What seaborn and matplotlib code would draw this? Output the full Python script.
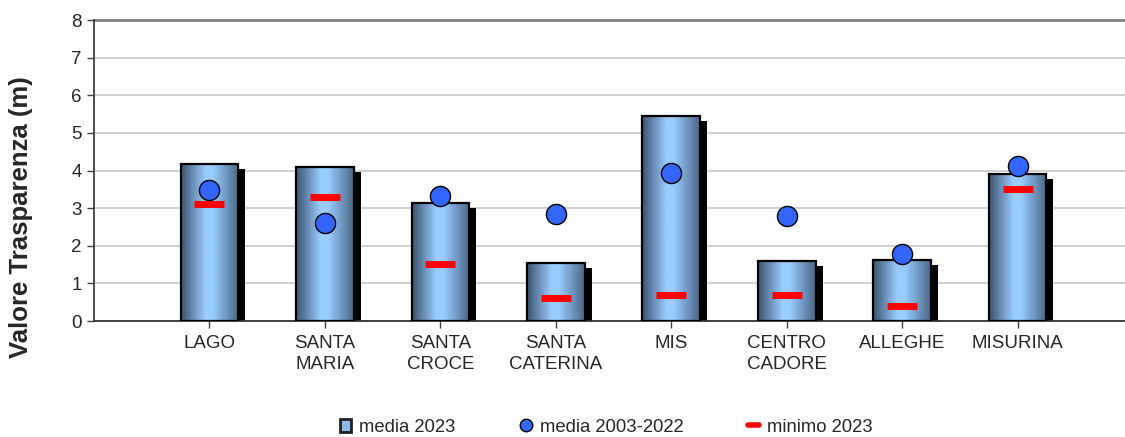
import numpy as np
import pandas as pd
import matplotlib
matplotlib.use("Agg")
import matplotlib.pyplot as plt
import seaborn as sns
from matplotlib.colors import LinearSegmentedColormap
from matplotlib.patches import Rectangle, Patch
from matplotlib.lines import Line2D
from matplotlib.transforms import ScaledTranslation

# data
stations = ["LAGO", "SANTA\nMARIA", "SANTA\nCROCE", "SANTA\nCATERINA", "MIS",
            "CENTRO\nCADORE", "ALLEGHE", "MISURINA"]
media_2023 = [4.17, 4.10, 3.13, 1.54, 5.46, 1.60, 1.62, 3.91]
media_2003_2022 = [3.48, 2.60, 3.32, 2.84, 3.94, 2.80, 1.78, 4.13]
minimo_2023 = [3.11, 3.30, 1.51, 0.61, 0.70, 0.70, 0.41, 3.50]

df = pd.DataFrame({"stazione": stations, "media": media_2023,
                   "storico": media_2003_2022, "minimo": minimo_2023,
                   "pos": np.arange(len(stations))})

sns.set_style("white")
plt.rcParams["font.family"] = ["Liberation Sans", "DejaVu Sans"]

fig = plt.figure(figsize=(11.25, 4.37), dpi=100)
ax = fig.add_axes([0.0836, 0.2654, 0.9164, 0.6888])

sns.barplot(data=df, x="stazione", y="media", order=stations, width=0.5,
            facecolor="none", edgecolor="black", linewidth=1.6, ax=ax, zorder=3)

# gradient fill + shadow for each bar
cmap = LinearSegmentedColormap.from_list(
    "cyl", [(0, "#3b536e"), (0.42, "#99ccff"), (0.55, "#99ccff"), (1, "#4a6686")])
grad = np.linspace(0, 1, 256).reshape(1, -1)
shift = ScaledTranslation(5 / 72, -3.6 / 72, fig.dpi_scale_trans)
for p in ax.patches:
    x0, y0 = p.get_xy()
    w, h = p.get_width(), p.get_height()
    sh = Rectangle((x0, y0), w, h, transform=ax.transData + shift,
                   facecolor="black", edgecolor="none", zorder=1.5)
    ax.add_patch(sh)
    im = ax.imshow(grad, cmap=cmap, aspect="auto", extent=(x0, x0 + w, y0, y0 + h),
                   zorder=2, interpolation="bilinear")
    im.set_clip_path(p)

sns.scatterplot(data=df, x="pos", y="storico", marker="o", s=210,
                color="#3366ff", edgecolor="black", linewidth=1, ax=ax, zorder=5)
sns.scatterplot(data=df, x="pos", y="minimo", marker="_", s=480,
                color="#ff0000", linewidth=5, ax=ax, zorder=4)

ax.set_xlim(-1, 7.93)
ax.set_ylim(0, 8)
ax.set_yticks(range(0, 9))
ax.set_xticks(range(len(stations)))
ax.set_xticklabels(stations, fontsize=13.5, linespacing=1.34)
ax.tick_params(axis="y", labelsize=13.5, length=5, width=1, color="#404040",
               left=True, pad=4)
ax.tick_params(axis="x", length=5, width=1, color="#404040", bottom=True, pad=5)
for yv in range(1, 8):
    ax.axhline(yv, color="#c8c8c8", linewidth=1.2, zorder=0)
ax.axhline(8, color="#808080", linewidth=2, zorder=0, clip_on=False)
ax.spines["right"].set_visible(False)
ax.spines["top"].set_visible(False)
ax.spines["left"].set_color("#404040")
ax.spines["left"].set_linewidth(1.3)
ax.spines["bottom"].set_color("#303030")
ax.spines["bottom"].set_linewidth(1.3)
ax.set_xlabel("")
ax.set_ylabel("Valore Trasparenza (m)", fontsize=18.5, fontweight="bold")
ax.yaxis.set_label_coords(-0.059, 0.345)

handles = [
    Patch(facecolor="#8fb8e6", edgecolor="#202020", linewidth=2, label="media 2023"),
    Line2D([], [], marker="o", linestyle="none", markersize=9,
           markerfacecolor="#3366ff", markeredgecolor="black", label="media 2003-2022"),
    Line2D([], [], color="#ff0000", linewidth=4, label="minimo 2023"),
]
fig.legend(handles=handles, loc="center", bbox_to_anchor=(0.539, 0.022), ncol=3,
           frameon=False, fontsize=13.3, handlelength=0.6, handletextpad=0.45,
           columnspacing=3.5)

fig.savefig("out.png", dpi=100)
